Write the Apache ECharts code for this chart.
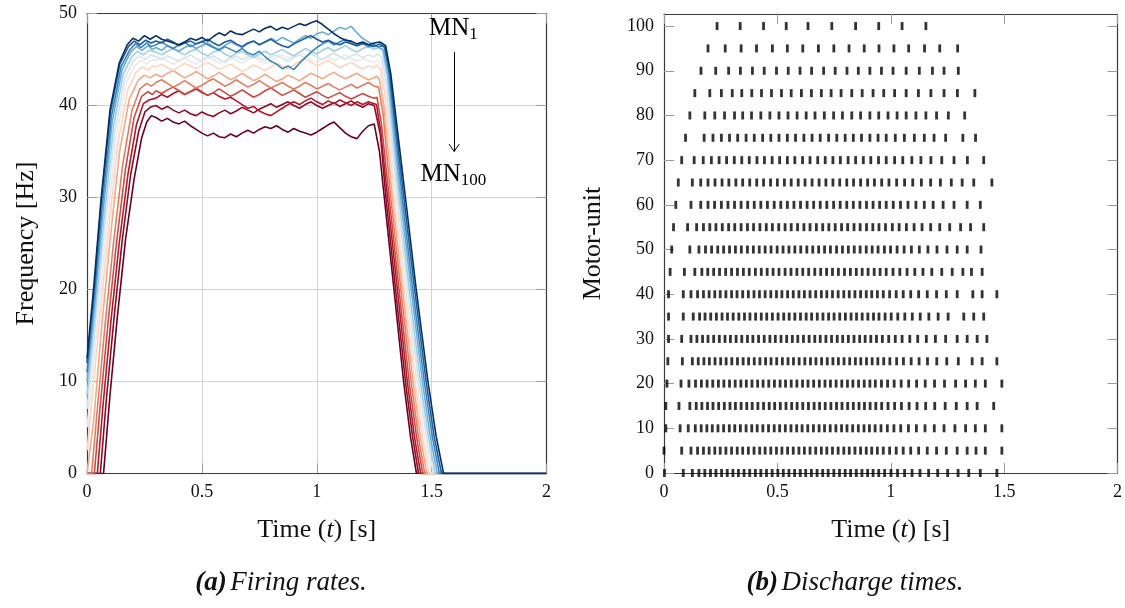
<!DOCTYPE html>
<html>
<head>
<meta charset="utf-8">
<script src="https://cdn.jsdelivr.net/npm/echarts@6/dist/echarts.min.js"></script>
<style>
html, body { margin: 0; padding: 0; background: #fff; }
#chart { width: 1125px; height: 608px; }
</style>
</head>
<body>
<div id="chart"></div>
<script>
// ---------- axis ticks ----------
const timeTicks = [0, 0.5, 1, 1.5, 2];
const freqTicks = [0, 10, 20, 30, 40, 50];
const unitTicks = [0, 10, 20, 30, 40, 50, 60, 70, 80, 90, 100];

// ---------- (a) firing rates: 14 motor neurons, MN1 (blue) ... MN100 (red) ----------
const mnNames = ['MN1', 'MN8', 'MN16', 'MN24', 'MN31', 'MN39', 'MN47', 'MN54', 'MN62', 'MN70', 'MN77', 'MN85', 'MN93', 'MN100'];
const mnColors = ['#053061', '#1c5c9f', '#3a86bd', '#6aaed4', '#a3cde3', '#d3e5f0', '#efe9e6',
                  '#fbd6c2', '#f4a886', '#e27b62', '#cb4a42', '#b2182b', '#8e0b26', '#67001f'];

// recruitment ramp [t (s), rate (Hz)]
const firingRise = [
  [[0,12.5],[0.03,20.5],[0.06,29.5],[0.1,39.5],[0.14,44.6],[0.175,46.6],[0.2,47.3],[0.225,47.0],[0.25,47.6],[0.275,47.2]],
  [[0,12],[0.031,20],[0.062,29.5],[0.102,39.3],[0.143,44.5],[0.18,46.4],[0.205,47.0],[0.23,46.6],[0.255,47.1],[0.28,46.8]],
  [[0,11],[0.033,19.5],[0.066,29],[0.106,38.8],[0.148,44.2],[0.185,46.0],[0.21,46.7],[0.235,46.3],[0.26,46.8],[0.28,46.4]],
  [[0,10],[0.036,19],[0.07,28.5],[0.11,38.3],[0.153,43.9],[0.19,45.8],[0.215,46.4],[0.24,46.0],[0.265,46.5],[0.285,46.1]],
  [[0,8.5],[0.04,18.5],[0.075,28],[0.116,37.8],[0.158,43.4],[0.195,45.3],[0.22,45.9],[0.245,45.5],[0.27,46.0]],
  [[0,7],[0.044,18],[0.08,27.5],[0.122,37.3],[0.164,42.9],[0.2,44.8],[0.228,45.4],[0.255,45.0],[0.278,45.5]],
  [[0,5],[0.05,17.5],[0.087,27],[0.128,36.7],[0.17,42.4],[0.207,44.3],[0.235,44.9],[0.26,44.5],[0.28,45.0]],
  [[0,2.5],[0.056,17],[0.094,26.5],[0.135,36],[0.177,41.7],[0.214,43.6],[0.24,44.2],[0.265,43.8],[0.285,44.3]],
  [[0,0],[0.008,0],[0.03,6],[0.064,16],[0.101,25.5],[0.142,35],[0.184,40.7],[0.222,42.7],[0.25,43.3],[0.275,43.0]],
  [[0,0],[0.02,0],[0.045,7],[0.078,16],[0.115,25],[0.155,33.5],[0.195,39.4],[0.23,41.8],[0.26,42.4],[0.28,42.1]],
  [[0,0],[0.032,0],[0.058,7.5],[0.092,16.5],[0.128,25],[0.167,33],[0.205,38.7],[0.238,41.0],[0.265,41.5],[0.285,41.2]],
  [[0,0],[0.045,0],[0.07,7.5],[0.104,16.5],[0.14,25],[0.178,32.5],[0.215,37.9],[0.245,40.2],[0.27,40.6]],
  [[0,0],[0.058,0],[0.084,8],[0.118,17],[0.154,25.5],[0.19,32.5],[0.225,37.2],[0.252,39.3],[0.275,39.8]],
  [[0,0],[0.072,0],[0.1,8.5],[0.132,17],[0.168,25.5],[0.205,32],[0.238,36.5],[0.26,38.2],[0.28,38.9]]
];

// plateau sampling instants (s)
const plateauTimes = [0.3,0.325,0.35,0.375,0.4,0.425,0.45,0.475,0.5,0.525,0.55,0.575,0.6,0.625,0.65,0.675,0.7,0.725,0.75,0.775,
                      0.8,0.825,0.85,0.875,0.9,0.925,0.95,0.975,1,1.025,1.05,1.075,1.1,1.125,1.15,1.175,1.2,1.225,1.25];

// plateau rates (Hz)
const firingPlateau = [
  [47.6,47.2,47.0,46.8,46.6,46.9,47.3,47.1,47.4,47.0,47.5,47.9,47.6,48.1,47.8,47.7,48.0,48.3,48.0,48.4,48.6,48.2,48.5,48.3,48.6,48.9,48.7,49.0,49.2,48.8,48.3,47.8,47.4,47.1,47.0,46.7,46.9,46.6,46.8],
  [47.0,46.8,47.2,46.9,46.5,46.8,47.0,46.7,46.9,47.2,46.8,46.5,46.9,47.1,46.7,46.4,46.8,47.0,46.6,46.9,47.2,46.8,46.5,46.3,46.7,47.0,47.3,47.6,47.2,46.9,47.1,46.8,46.6,46.9,46.7,46.5,46.8,46.6,46.4],
  [46.6,46.9,46.5,46.2,46.6,46.9,46.4,46.7,47.0,46.6,46.3,46.0,46.4,46.1,45.8,46.2,45.7,45.5,45.9,45.3,44.8,44.5,44.0,44.3,43.9,44.6,45.2,45.8,46.3,46.7,47.0,46.6,46.9,47.2,46.8,46.5,46.7,46.4,46.6],
  [46.3,46.0,46.5,46.2,45.9,46.3,46.6,46.2,46.5,46.8,46.4,46.1,46.5,46.9,46.6,46.3,46.7,47.0,46.6,46.9,47.3,47.0,47.4,47.1,46.8,47.2,47.6,47.3,47.8,48.0,47.7,48.1,48.5,48.3,48.6,47.9,47.3,46.9,46.6],
  [45.8,45.5,45.9,46.2,45.8,45.5,45.9,46.1,45.7,45.4,45.8,46.0,45.6,45.3,45.7,45.9,45.5,45.2,45.6,45.9,45.5,45.8,46.1,45.7,45.4,45.8,46.2,45.9,45.6,46.0,46.3,45.9,46.2,46.5,46.1,45.8,46.2,46.4,46.1],
  [45.3,45.0,45.4,45.1,44.8,45.2,45.5,45.1,44.8,45.2,45.4,45.0,44.7,45.1,45.4,45.0,45.3,45.6,45.2,44.9,45.3,45.5,45.1,44.8,45.2,45.5,45.2,45.6,45.3,45.0,45.4,45.7,45.3,45.0,45.4,45.6,45.2,45.5,45.3],
  [44.9,45.2,44.8,44.5,44.9,45.2,44.8,44.5,44.9,45.3,45.0,44.6,44.9,45.3,44.9,44.6,45.0,45.3,44.9,44.6,44.9,45.2,45.5,45.1,45.4,45.8,45.5,45.0,44.7,45.0,45.3,44.9,45.2,45.5,45.1,44.8,45.1,44.9,44.7],
  [44.2,44.5,44.1,43.8,44.2,44.6,44.3,44.0,44.4,44.7,44.3,43.9,44.2,44.5,44.1,43.7,44.0,44.4,44.1,43.8,44.2,44.6,44.3,44.0,44.4,44.8,45.1,44.7,44.3,44.6,44.9,44.5,44.1,44.4,44.7,44.3,44.0,44.3,44.1],
  [43.4,43.1,43.5,43.8,43.4,43.0,43.3,43.7,43.3,42.9,43.2,43.6,43.2,42.8,43.1,43.5,43.1,42.7,43.0,43.4,43.0,42.6,42.9,43.3,43.0,42.7,43.1,43.5,43.2,42.9,43.3,43.6,43.2,42.9,43.2,43.5,43.1,42.8,43.0],
  [42.5,42.8,42.4,42.0,42.3,42.7,42.3,41.9,42.2,42.6,42.9,42.5,42.1,42.4,42.8,42.4,42.0,42.3,42.7,42.3,41.9,42.2,42.5,42.1,41.8,42.1,42.5,42.2,41.8,42.1,42.4,42.0,41.7,42.0,42.3,41.9,42.2,42.5,42.1],
  [41.6,41.3,41.7,42.0,41.6,41.2,41.5,41.9,41.5,41.1,41.4,41.8,41.4,41.0,41.3,41.7,41.3,40.9,41.2,41.6,41.9,41.5,41.1,41.4,41.7,41.3,40.9,41.2,41.5,41.1,40.8,41.1,41.4,41.0,40.7,41.0,41.3,41.0,40.8],
  [40.8,41.2,40.9,41.3,41.6,41.2,41.5,41.8,41.4,41.1,41.4,41.0,40.7,40.9,40.5,40.1,39.7,39.9,39.4,39.1,38.9,39.3,39.7,40.1,40.4,40.1,40.5,40.8,40.4,40.1,40.5,40.2,40.6,40.3,40.0,40.4,40.1,40.4,40.2],
  [40.0,39.6,39.9,39.5,39.2,39.5,39.1,38.9,39.3,39.0,38.8,39.2,39.5,39.1,39.4,39.8,39.5,39.2,39.6,39.9,40.2,39.8,40.1,40.4,40.0,39.7,40.1,40.4,40.0,39.7,40.0,40.3,39.9,40.2,40.5,40.1,39.8,40.2,40.0],
  [38.7,38.3,38.6,38.2,38.0,38.3,37.8,37.4,37.0,36.7,37.0,36.6,36.5,36.9,36.6,37.0,37.3,37.0,37.4,37.7,37.5,37.8,37.4,37.1,37.5,37.2,37.0,36.8,37.1,37.5,37.9,38.2,37.6,37.0,36.6,36.4,37.2,37.8,38.0]
];

// de-recruitment ramp [t (s), rate (Hz)]
const firingFall = [
  [[1.275,46.9],[1.3,46.5],[1.322,43.5],[1.386,30],[1.433,20],[1.484,10],[1.52,4],[1.552,0],[2,0]],
  [[1.273,46.7],[1.297,46.3],[1.319,43.3],[1.379,30],[1.426,20],[1.476,10],[1.511,4],[1.543,0],[2,0]],
  [[1.27,46.4],[1.293,46.5],[1.315,43.5],[1.372,30],[1.418,20],[1.468,10],[1.503,4],[1.534,0],[2,0]],
  [[1.27,46.3],[1.29,46.1],[1.312,43.1],[1.365,30],[1.411,20],[1.46,10],[1.494,4],[1.525,0],[2,0]],
  [[1.268,46.3],[1.286,46.0],[1.308,43.0],[1.358,30],[1.403,20],[1.451,10],[1.486,4],[1.516,0],[2,0]],
  [[1.266,45.6],[1.283,45.2],[1.305,42.2],[1.351,30],[1.396,20],[1.443,10],[1.477,4],[1.507,0],[2,0]],
  [[1.264,45.0],[1.279,44.7],[1.301,41.7],[1.344,30],[1.388,20],[1.435,10],[1.468,4],[1.497,0],[2,0]],
  [[1.262,44.4],[1.276,44.0],[1.297,41.0],[1.337,30],[1.381,20],[1.427,10],[1.46,4],[1.488,0],[2,0]],
  [[1.26,43.2],[1.272,42.9],[1.292,40.0],[1.329,30],[1.373,20],[1.419,10],[1.451,4],[1.479,0],[2,0]],
  [[1.258,42.3],[1.269,42.0],[1.289,39.0],[1.322,30],[1.366,20],[1.411,10],[1.442,4],[1.47,0],[2,0]],
  [[1.262,40.9],[1.282,37.9],[1.315,30],[1.358,20],[1.402,10],[1.434,4],[1.461,0],[2,0]],
  [[1.26,40.1],[1.279,37.1],[1.308,30],[1.351,20],[1.394,10],[1.425,4],[1.452,0],[2,0]],
  [[1.258,39.8],[1.277,36.8],[1.301,30],[1.343,20],[1.386,10],[1.417,4],[1.443,0],[2,0]],
  [[1.255,37.8],[1.273,35],[1.294,30],[1.336,20],[1.378,10],[1.408,4],[1.434,0],[2,0]]
];

// ---------- (b) discharge times (ms) of every fifth motor unit ----------
const rasterUnits = [0, 5, 10, 15, 20, 25, 30, 35, 40, 45, 50, 55, 60, 65, 70, 75, 80, 85, 90, 95, 100];
const dischargeTimesMs = [
  [2,85,125,154,180,205,229,254,279,304,328,353,378,403,427,452,477,502,526,551,576,601,625,650,675,700,724,749,774,799,823,848,873,898,922,947,973,1001,1030,1061,1094,1129,1167,1207,1251,1297,1344,1395,1468],
  [0,78,119,148,174,199,224,248,273,298,323,347,372,397,422,446,471,496,520,545,570,595,619,644,669,694,718,743,768,793,817,842,867,892,916,941,967,995,1024,1055,1088,1123,1161,1202,1245,1293,1337,1376,1417,1490],
  [8,71,107,138,164,189,213,238,263,288,312,337,362,387,411,436,461,486,510,535,560,585,609,634,659,684,708,733,758,783,807,832,857,882,906,931,957,985,1014,1044,1078,1113,1151,1192,1235,1283,1330,1373,1417,1490],
  [8,66,114,142,167,192,216,241,266,291,315,340,365,389,414,439,464,488,513,538,563,587,612,637,662,686,711,736,761,785,810,835,860,884,909,934,960,988,1017,1047,1081,1116,1154,1194,1240,1289,1337,1381,1454],
  [13,75,110,139,165,190,215,240,264,289,314,339,363,388,413,437,462,487,512,536,561,586,611,635,660,685,710,734,759,784,809,833,858,883,908,932,959,986,1015,1046,1079,1114,1152,1193,1237,1286,1330,1373,1417,1490],
  [17,81,125,151,176,200,225,250,274,299,324,349,373,398,423,448,472,497,522,547,571,596,621,646,670,695,720,745,769,794,819,844,868,893,918,943,969,996,1026,1056,1090,1125,1162,1203,1247,1298,1359,1403,1468],
  [20,78,119,145,170,194,219,244,269,293,318,343,368,392,417,442,467,491,516,541,566,590,615,640,665,689,714,739,764,788,813,838,863,887,912,937,963,991,1020,1050,1084,1119,1157,1197,1242,1293,1337,1381,1424],
  [20,85,129,157,181,206,231,256,280,305,330,355,379,404,429,453,478,503,528,552,577,602,627,651,676,701,726,750,775,800,825,849,874,899,924,948,975,1002,1031,1062,1095,1130,1168,1209,1253,1322,1366,1410],
  [20,85,119,148,174,199,224,248,273,298,322,347,372,397,421,446,471,496,520,545,570,595,619,644,669,694,718,743,768,793,817,842,867,892,916,941,967,995,1024,1055,1088,1123,1161,1202,1245,1293,1362,1403,1468],
  [27,90,136,167,193,219,245,272,298,324,350,376,403,429,455,481,507,534,560,586,612,638,665,691,717,743,769,796,822,848,874,900,927,953,980,1010,1040,1072,1106,1142,1181,1225,1271,1318,1356,1403],
  [34,114,154,183,210,237,263,289,315,341,368,394,420,446,472,499,525,551,577,603,630,656,682,708,734,761,787,813,839,865,892,918,944,972,999,1028,1059,1091,1126,1164,1204,1248,1293,1337,1398],
  [42,104,144,174,202,229,257,285,312,340,368,395,423,451,478,506,534,561,589,617,644,672,700,727,755,783,810,838,865,893,921,948,977,1007,1037,1069,1103,1138,1176,1216,1260,1308,1352,1410],
  [52,119,162,194,223,253,282,311,340,369,398,427,456,486,515,544,573,602,631,660,689,718,748,777,806,835,864,893,922,951,980,1011,1043,1076,1111,1148,1187,1231,1279,1337,1395],
  [63,125,162,194,225,256,286,317,347,378,409,439,470,500,531,561,592,622,653,684,714,745,775,806,836,867,898,928,960,992,1026,1061,1097,1135,1176,1219,1267,1315,1366,1446],
  [78,133,173,209,243,276,310,343,376,410,443,477,510,544,577,611,644,678,711,745,778,812,845,879,912,946,980,1017,1053,1093,1133,1177,1225,1279,1338,1410],
  [95,177,216,253,289,325,362,398,435,471,507,544,580,617,653,689,726,762,799,835,871,908,944,980,1020,1060,1104,1148,1191,1242,1318,1374],
  [114,180,224,267,311,347,386,427,467,507,547,587,627,666,707,748,787,828,867,908,947,988,1028,1068,1111,1155,1202,1254,1326],
  [136,202,253,301,343,387,430,474,518,561,606,650,694,737,781,828,874,922,969,1017,1068,1122,1177,1235,1294,1371],
  [163,228,285,337,390,442,496,548,600,651,704,755,807,857,908,959,1010,1068,1126,1184,1235,1298],
  [194,270,340,408,478,544,612,681,749,816,883,948,1014,1079,1149,1216,1295],
  [234,336,439,539,635,740,845,947,1050,1155]
];

// ---------- styling ----------
const SERIF = '"Liberation Serif", "Times New Roman", serif';
const FRAME = '#3a3a3a';
const TICK = '#9a9a9a';

const nameStyle = {
  fontFamily: SERIF, fontSize: 26, color: '#111',
  rich: { i: { fontFamily: SERIF, fontSize: 26, fontStyle: 'italic', color: '#111' } }
};

function frameAxis(opts) {
  return Object.assign({
    type: 'value',
    axisLine: { show: true, onZero: false, lineStyle: { color: FRAME, width: 1.2 } },
    axisTick: { show: true, inside: true, length: 10, lineStyle: { color: TICK, width: 1 } },
    axisLabel: { show: false },
    splitLine: { show: false }
  }, opts);
}
const tickLabel = { show: true, margin: 10, fontFamily: SERIF, fontSize: 18, color: '#111' };
const gridLine = { show: true, lineStyle: { color: '#d2d2d2', width: 1 } };

// ---------- series ----------
const series = [];
for (let i = firingRise.length - 1; i >= 0; i--) {
  const pts = firingRise[i]
    .concat(plateauTimes.map((t, k) => [t, firingPlateau[i][k]]))
    .concat(firingFall[i]);
  const s = {
    name: mnNames[i], type: 'line', xAxisIndex: 0, yAxisIndex: 0,
    data: pts, showSymbol: false, symbol: 'none',
    lineStyle: { color: mnColors[i], width: 1.6 },
    z: 2
  };
  if (i === 0) {
    s.markLine = {
      silent: true, symbol: ['none', 'none'], label: { show: false },
      lineStyle: { color: '#000', width: 1, type: 'solid' },
      emphasis: { disabled: true },
      data: [
        [{ coord: [1.598, 45.8] }, { coord: [1.598, 35.0] }],
        [{ coord: [1.576, 35.8] }, { coord: [1.598, 35.0] }],
        [{ coord: [1.62, 35.8] }, { coord: [1.598, 35.0] }]
      ]
    };
    s.markPoint = {
      symbol: 'circle', symbolSize: 0, silent: true,
      label: {
        show: true, position: 'inside', color: '#000',
        rich: {
          m: { fontFamily: SERIF, fontSize: 25, color: '#000' },
          s: { fontFamily: SERIF, fontSize: 17, color: '#000', padding: [12, 0, 0, 0] }
        }
      },
      data: [
        { coord: [1.595, 48.4], label: { formatter: '{m|MN}{s|1}' } },
        { coord: [1.595, 32.5], label: { formatter: '{m|MN}{s|100}' } }
      ]
    };
  }
  series.push(s);
}

const spikes = [];
rasterUnits.forEach((u, r) => {
  dischargeTimesMs[r].forEach(ms => spikes.push([ms / 1000, u]));
});
series.push({
  name: 'discharges', type: 'scatter', xAxisIndex: 2, yAxisIndex: 2,
  data: spikes, symbol: 'rect', symbolSize: [2.8, 8],
  itemStyle: { color: '#000' }, z: 3
});

const captionRich = {
  b: { fontFamily: SERIF, fontSize: 27, fontStyle: 'italic', fontWeight: 'bold', fill: '#111' },
  i: { fontFamily: SERIF, fontSize: 27, fontStyle: 'italic', fill: '#111' }
};

const option = {
  animation: false,
  backgroundColor: '#fff',
  grid: [
    { left: 87, top: 13.5, width: 459.5, height: 460, containLabel: false },
    { left: 664, top: 14, width: 458, height: 459, containLabel: false }
  ],
  xAxis: [
    frameAxis({ gridIndex: 0, position: 'bottom', min: timeTicks[0], max: timeTicks[4], interval: 0.5,
      axisLabel: tickLabel, splitLine: gridLine,
      name: 'Time ({i|t}) [s]', nameLocation: 'middle', nameGap: 44, nameTextStyle: nameStyle }),
    frameAxis({ gridIndex: 0, position: 'top', min: timeTicks[0], max: timeTicks[4], interval: 0.5 }),
    frameAxis({ gridIndex: 1, position: 'bottom', min: timeTicks[0], max: timeTicks[4], interval: 0.5,
      axisLabel: tickLabel,
      name: 'Time ({i|t}) [s]', nameLocation: 'middle', nameGap: 44, nameTextStyle: nameStyle }),
    frameAxis({ gridIndex: 1, position: 'top', min: timeTicks[0], max: timeTicks[4], interval: 0.5 })
  ],
  yAxis: [
    frameAxis({ gridIndex: 0, position: 'left', min: freqTicks[0], max: freqTicks[5], interval: 10,
      axisLabel: tickLabel, splitLine: gridLine,
      name: 'Frequency [Hz]', nameLocation: 'middle', nameGap: 48, nameTextStyle: nameStyle }),
    frameAxis({ gridIndex: 0, position: 'right', min: freqTicks[0], max: freqTicks[5], interval: 10 }),
    frameAxis({ gridIndex: 1, position: 'left', min: 0, max: 102.7,
      axisLabel: Object.assign({ customValues: unitTicks }, tickLabel),
      axisTick: { show: true, inside: true, length: 10, customValues: unitTicks, lineStyle: { color: TICK, width: 1 } },
      name: 'Motor-unit', nameLocation: 'middle', nameGap: 58, nameTextStyle: nameStyle }),
    frameAxis({ gridIndex: 1, position: 'right', min: 0, max: 102.7,
      axisTick: { show: true, inside: true, length: 10, customValues: unitTicks, lineStyle: { color: TICK, width: 1 } } })
  ],
  graphic: [
    {
      type: 'text', x: 281, y: 583,
      style: {
        text: '{b|(a)} {i|Firing rates.}',
        align: 'center', verticalAlign: 'middle', textAlign: 'center', textVerticalAlign: 'middle',
        rich: captionRich
      }
    },
    {
      type: 'text', x: 855, y: 583,
      style: {
        text: '{b|(b)} {i|Discharge times.}',
        align: 'center', verticalAlign: 'middle', textAlign: 'center', textVerticalAlign: 'middle',
        rich: captionRich
      }
    }
  ],
  series: series
};

const chart = echarts.init(document.getElementById('chart'), null, { renderer: 'canvas' });
chart.setOption(option);
</script>
</body>
</html>
